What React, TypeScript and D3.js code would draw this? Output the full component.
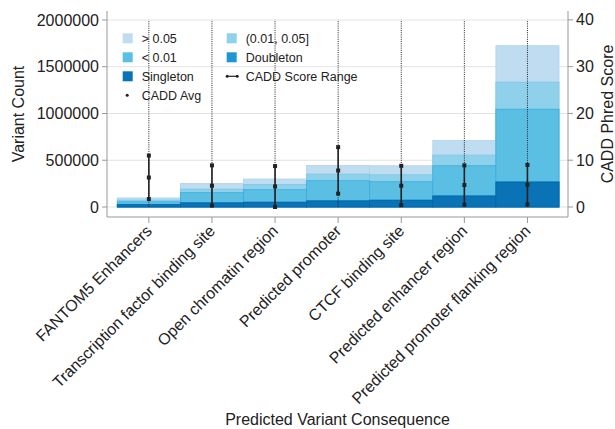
import { useEffect } from "react";
import * as d3 from "d3";

const categories = [
  "FANTOM5 Enhancers",
  "Transcription factor binding site",
  "Open chromatin region",
  "Predicted promoter",
  "CTCF binding site",
  "Predicted enhancer region",
  "Predicted promoter flanking region",
];

// variant counts per frequency class (not cumulative)
const singleton = [24000, 43000, 50000, 64000, 71000, 115000, 262000];
const doubleton = [4000, 3000, 3000, 4000, 4000, 6000, 11000];
const rare = [27000, 107000, 132000, 213000, 195000, 320000, 773000];
const lowFreq = [19000, 39000, 56000, 71000, 75000, 114000, 289000];
const common = [23000, 60000, 58000, 92000, 96000, 156000, 390000];

// CADD phred score summary
const caddMin = [1.7, 0.3, 0, 2.85, 0.4, 0.5, 0.55];
const caddAvg = [6.3, 4.55, 4.4, 7.8, 4.55, 4.7, 4.75];
const caddMax = [11, 8.9, 8.75, 12.8, 8.8, 8.9, 9.0];

const countTicks = [0, 500000, 1000000, 1500000, 2000000];
const caddTicks = [0, 10, 20, 30, 40];

const layers = [
  { key: "Singleton", values: singleton, fill: "#0a73b5", stroke: "#0666a8" },
  { key: "Doubleton", values: doubleton, fill: "#1f95d1", stroke: "#1a8cc8" },
  { key: "< 0.01", values: rare, fill: "#5bbfe4", stroke: "#36aee0" },
  { key: "(0.01, 0.05]", values: lowFreq, fill: "#8fd0ea", stroke: "#7cc8e6" },
  { key: "> 0.05", values: common, fill: "#bfdcf1", stroke: "#aed3ee" },
];

const font = "'Liberation Sans', Arial, Helvetica, sans-serif";
const textColor = "#222";
const axisColor = "#999";

export default function App() {
  useEffect(() => {
    document.body.style.margin = "0";
  }, []);

  const width = 615;
  const height = 429;
  const left = 107;
  const right = 568;
  const top = 11;
  const bottom = 217;

  const x = d3.scaleBand().domain(categories).range([117.3, 559]).padding(0);
  const yCount = d3.scaleLinear().domain([-107000, 2096000]).range([bottom, top]);
  const yCadd = d3.scaleLinear().domain([-2.14, 41.9]).range([bottom, top]);

  const table = categories.map((c, i) => {
    const row: Record<string, any> = { category: c };
    layers.forEach((l) => (row[l.key] = l.values[i]));
    return row;
  });
  const stacked = d3.stack().keys(layers.map((l) => l.key))(table as any);

  const legendItems = [
    { label: "> 0.05", type: "box", color: "#bfdcf1" },
    { label: "(0.01, 0.05]", type: "box", color: "#8fd0ea" },
    { label: "< 0.01", type: "box", color: "#5bbfe4" },
    { label: "Doubleton", type: "box", color: "#1f95d1" },
    { label: "Singleton", type: "box", color: "#0a73b5" },
    { label: "CADD Score Range", type: "range", color: "#222" },
    { label: "CADD Avg", type: "dot", color: "#222" },
  ];

  return (
    <div style={{ position: "absolute", left: 0, top: 0 }}>
      <svg width={width} height={height} style={{ display: "block", fontFamily: font }}>
        <rect width={width} height={height} fill="#fff" />
        {/* gridlines */}
        {countTicks.map((t) => (
          <line key={t} x1={left} x2={right} y1={yCount(t)} y2={yCount(t)} stroke="#e2e2e2" strokeWidth={1} />
        ))}
        {/* bars, layered cumulative */}
        {stacked.map((layer, li) => (
          <g key={layers[li].key}>
            {layer.map((d, i) => (
              <rect
                key={i}
                x={x(categories[i])}
                width={x.bandwidth()}
                y={yCount(d[1])}
                height={yCount(0) - yCount(d[1])}
                fill={layers[li].fill}
                stroke={layers[li].stroke}
                strokeWidth={0.8}
              />
            ))}
          </g>
        )).reverse()}
        {/* CADD ranges */}
        {categories.map((c, i) => {
          const cx = (x(c) as number) + x.bandwidth() / 2;
          return (
            <g key={c}>
              <line x1={cx} x2={cx} y1={yCadd(0)} y2={yCadd(40)} stroke="#222" strokeWidth={1} strokeDasharray="1,1.2" />
              <line x1={cx} x2={cx} y1={yCadd(caddMin[i])} y2={yCadd(caddMax[i])} stroke="#222" strokeWidth={1.6} />
              {[caddMin[i], caddAvg[i], caddMax[i]].map((v, k) => (
                <rect key={k} x={cx - 2} y={yCadd(v) - 2} width={4} height={4} fill="#222" />
              ))}
            </g>
          );
        })}
        {/* axes */}
        <line x1={left} x2={left} y1={top} y2={bottom} stroke={axisColor} />
        <line x1={right} x2={right} y1={top} y2={bottom} stroke={axisColor} />
        <line x1={left} x2={right} y1={bottom} y2={bottom} stroke={axisColor} />
        {countTicks.map((t) => (
          <g key={t} transform={`translate(0,${yCount(t)})`}>
            <line x1={left - 5} x2={left} stroke={axisColor} />
            <text x={left - 8} dy="0.35em" textAnchor="end" fontSize={16} fill={textColor}>
              {t}
            </text>
          </g>
        ))}
        {caddTicks.map((t) => (
          <g key={t} transform={`translate(0,${yCadd(t)})`}>
            <line x1={right} x2={right + 5} stroke={axisColor} />
            <text x={right + 8} dy="0.35em" textAnchor="start" fontSize={16} fill={textColor}>
              {t}
            </text>
          </g>
        ))}
        {categories.map((c) => {
          const cx = (x(c) as number) + x.bandwidth() / 2;
          return (
            <g key={c}>
              <line x1={cx} x2={cx} y1={bottom} y2={bottom + 6} stroke={axisColor} />
              <text
                transform={`translate(${cx + 4},${bottom + 15}) rotate(-45)`}
                textAnchor="end"
                fontSize={16}
                fill={textColor}
              >
                {c}
              </text>
            </g>
          );
        })}
        {/* titles */}
        <text x={(left + right) / 2} y={425} textAnchor="middle" fontSize={16} fill={textColor}>
          Predicted Variant Consequence
        </text>
        <text transform={`translate(24,${(top + bottom) / 2}) rotate(-90)`} textAnchor="middle" fontSize={16} fill={textColor}>
          Variant Count
        </text>
        <text transform={`translate(613,${(top + bottom) / 2}) rotate(-90)`} textAnchor="middle" fontSize={16} fill={textColor}>
          CADD Phred Score
        </text>
        {/* legend */}
        {legendItems.map((it, i) => {
          const col = i % 2;
          const row = Math.floor(i / 2);
          const lx = col === 0 ? 122.7 : 226.7;
          const ly = 38.3 + row * 19;
          return (
            <g key={it.label} transform={`translate(${lx},${ly})`}>
              {it.type === "box" && <rect x={0} y={-5} width={10} height={10} fill={it.color} />}
              {it.type === "range" && (
                <g>
                  <line x1={0} x2={11} y1={0} y2={0} stroke={it.color} strokeWidth={1.2} />
                  <circle cx={0.5} cy={0} r={1.5} fill={it.color} />
                  <circle cx={10.5} cy={0} r={1.5} fill={it.color} />
                </g>
              )}
              {it.type === "dot" && <circle cx={4.5} cy={0} r={1.5} fill={it.color} />}
              <text x={19} dy="0.35em" fontSize={12.5} fill={textColor}>
                {it.label}
              </text>
            </g>
          );
        })}
      </svg>
    </div>
  );
}
